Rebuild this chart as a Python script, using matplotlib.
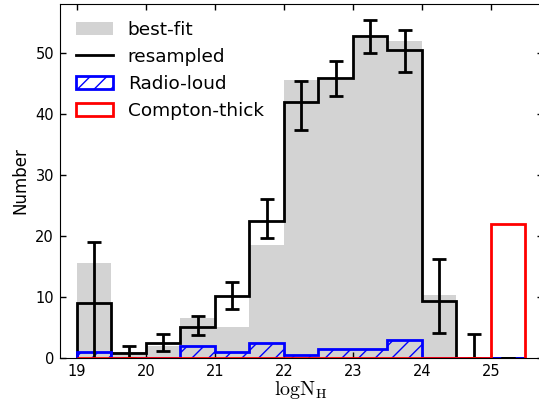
import numpy as np
import matplotlib
matplotlib.use('Agg')
import matplotlib.pyplot as plt
from matplotlib.patches import Patch
from matplotlib.lines import Line2D

plt.rcParams['mathtext.fontset'] = 'cm'

# histogram bins in log N_H (0.5 dex)
bin_edges = [19.0, 19.5, 20.0, 20.5, 21.0, 21.5, 22.0, 22.5, 23.0, 23.5, 24.0, 24.5, 25.0, 25.5]
best_fit = [15.5, 1.0, 2.0, 6.5, 5.0, 18.5, 45.6, 45.5, 52.5, 52.0, 10.4, 0.0, 0.0]
resampled = [9.0, 0.9, 2.4, 5.1, 10.2, 22.5, 42.0, 45.8, 52.7, 50.4, 9.3, 0.0, 0.0]
err_low = [-1.0, 0.0, 1.1, 3.7, 8.1, 19.7, 37.3, 43.0, 50.0, 46.8, 4.1, 0.0, 0.0]
err_high = [19.0, 2.0, 3.9, 6.9, 12.5, 26.1, 45.4, 48.6, 55.3, 53.8, 16.2, 3.9, 0.0]
radio_loud = [0.95, 0.0, 0.0, 2.0, 1.0, 2.4, 0.5, 1.4, 1.4, 2.9, 0.0, 0.0, 0.0]
compton_thick = [0, 0, 0, 0, 0, 0, 0, 0, 0, 0, 0, 0, 22]

edges = np.array(bin_edges)
centers = 0.5 * (edges[1:] + edges[:-1])
lo = np.array(err_low)
hi = np.array(err_high)
mid = 0.5 * (lo + hi)
half = 0.5 * (hi - lo)

fig = plt.figure(figsize=(5.39, 4.0), dpi=100)
ax = fig.add_axes([0.1104, 0.105, 0.8961, 0.885])

ax.hist(centers, bins=edges, weights=best_fit, histtype='stepfilled',
        color='lightgray', edgecolor='none')
ax.hist(centers, bins=edges, weights=resampled, histtype='step',
        color='black', lw=2)
ax.hist(centers, bins=edges, weights=radio_loud, histtype='step',
        color='blue', lw=2, hatch='//')
ax.errorbar(centers, mid, yerr=half, fmt='none', ecolor='black',
            elinewidth=2, capsize=5, capthick=2)
ax.hist(centers, bins=edges, weights=compton_thick, histtype='step',
        color='red', lw=2, zorder=3)

ax.set_xlim(18.75, 25.75)
ax.set_ylim(0, 58)
ax.set_xticks([19, 20, 21, 22, 23, 24, 25])
ax.set_yticks([0, 10, 20, 30, 40, 50])
ax.tick_params(direction='in', top=True, right=True, length=4, width=1,
               labelsize=10.5, pad=4)

ax.set_ylabel('Number', fontsize=12)
ax.set_xlabel(r'$\mathrm{logN_H}$', fontsize=14.5, labelpad=0)

handles = [Patch(facecolor='lightgray', edgecolor='none'),
           Line2D([], [], color='black', lw=2),
           Patch(fill=False, edgecolor='blue', hatch='//', lw=2),
           Patch(fill=False, edgecolor='red', lw=2)]
ax.legend(handles, ['best-fit', 'resampled', 'Radio-loud', 'Compton-thick'],
          loc='upper left', frameon=False, fontsize=13.3,
          handlelength=2.0, handletextpad=0.8, labelspacing=0.5)

fig.savefig('out.png', dpi=100)
